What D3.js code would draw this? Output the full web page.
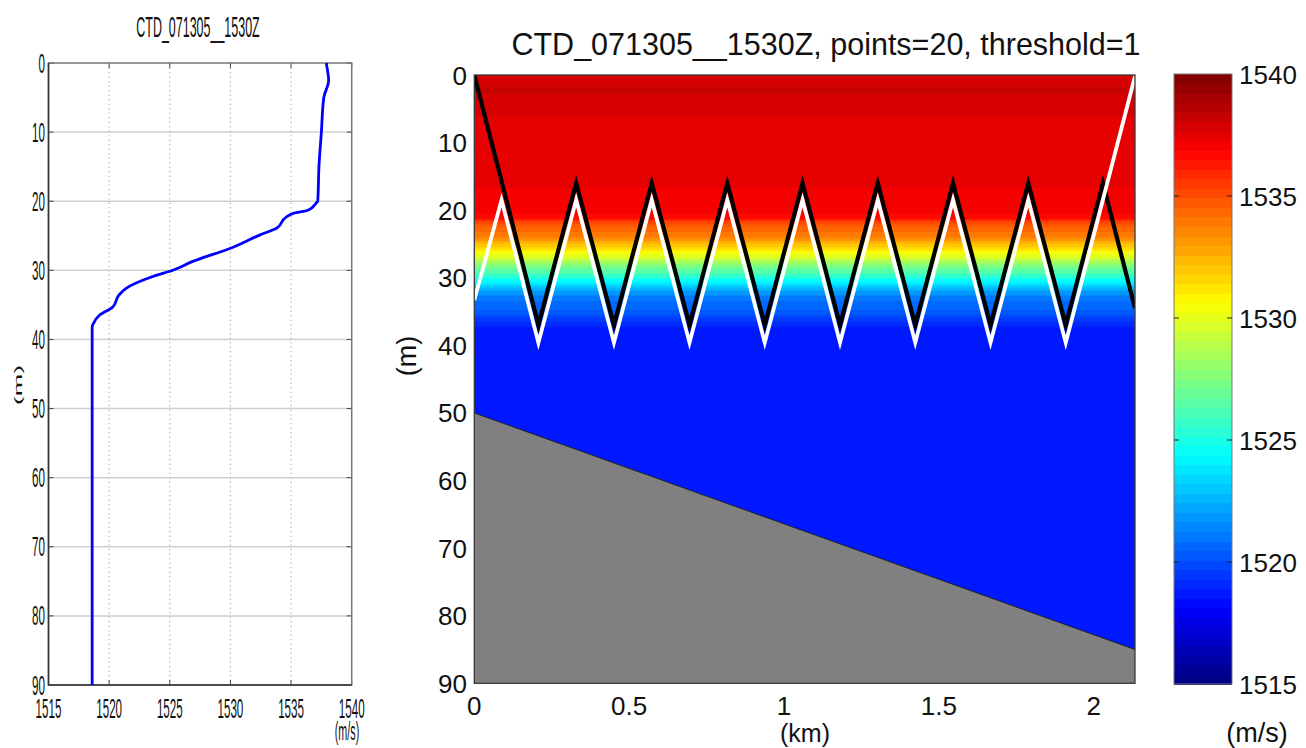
<!DOCTYPE html>
<html><head><meta charset="utf-8">
<script src="https://cdn.jsdelivr.net/npm/d3@7"></script>
<style>
html,body{margin:0;padding:0;background:#fff;}
svg{display:block;}
text{font-family:"Liberation Sans",Arial,sans-serif;fill:#111;}
</style></head>
<body>
<svg id="chart" width="1306" height="748"></svg>
<script>
// ---------------- DATA ----------------
const profileTitle = "CTD_071305__1530Z";
const sectionTitle = "CTD_071305__1530Z, points=20, threshold=1";
// sound-speed profile (depth m, speed m/s)
const profDepth = [0, 1, 2.5, 5, 10, 15, 20, 20.2, 21.3, 21.75, 22.3, 23.9, 24.9, 26.8, 28.7, 29.95, 30.9, 32.6, 33.6, 35.3, 36.5, 37.7, 38.2, 90];
const profSpeed = [1537.9, 1538.0, 1538.1, 1537.7, 1537.5, 1537.3, 1537.2, 1537.1, 1536.4, 1535.2, 1534.6, 1533.8, 1532.4, 1530.0, 1526.9, 1525.3, 1523.6, 1521.4, 1520.8, 1520.3, 1519.2, 1518.7, 1518.6, 1518.6];
// profile axes
const speedTicks = [1515, 1520, 1525, 1530, 1535, 1540];
const depthTicks = [0, 10, 20, 30, 40, 50, 60, 70, 80, 90];
// section
const rangeDomain = [0, 2.1336];
const rangeTicks = [0, 0.5, 1, 1.5, 2];
const rangeTickLabels = ["0", "0.5", "1", "1.5", "2"];
const bottomRange = [0, 2.1336];
const bottomDepth = [50, 85];
// track lines
const blackKm = [0, 0.207, 0.329, 0.451, 0.573, 0.695, 0.817, 0.938, 1.060, 1.181, 1.303, 1.424, 1.546, 1.667, 1.789, 1.910, 2.030, 2.1336];
const blackDepth = [0, 37, 16, 37, 16, 37, 16, 37, 16, 37, 16, 37, 16, 37, 16, 37, 16, 34.5];
const whiteKm = [0, 0.088, 0.207, 0.329, 0.451, 0.573, 0.695, 0.817, 0.938, 1.060, 1.181, 1.303, 1.424, 1.546, 1.667, 1.789, 1.910, 2.1336];
const whiteDepth = [33.3, 18.5, 39.6, 18.5, 39.6, 18.5, 39.6, 18.5, 39.6, 18.5, 39.6, 18.5, 39.6, 18.5, 39.6, 18.5, 39.6, 0.2];
// colour bar
const cDomain = [1515, 1540];
const cTicks = [1515, 1520, 1525, 1530, 1535, 1540];

// ---------------- HELPERS ----------------
const svg = d3.select("#chart");
function jet(t) {
  const c = v => Math.max(0, Math.min(1, v));
  const r = c(1.5 - Math.abs(4 * t - 3)), g = c(1.5 - Math.abs(4 * t - 2)), b = c(1.5 - Math.abs(4 * t - 1));
  return d3.rgb(r * 255, g * 255, b * 255).toString();
}
const NC = 64;
const cNorm = d3.scaleLinear().domain(cDomain).range([0, 1]).clamp(true);
function colorOf(v) {
  let i = Math.floor(cNorm(v) * NC); if (i >= NC) i = NC - 1;
  return jet((i + 0.5) / NC);
}
const SX = 0.43; // horizontal squeeze of the left panel text
function ctext(x, y, str, size, anchor, rot) {
  return svg.append("text")
    .attr("transform", `translate(${x},${y}) scale(${SX},1)` + (rot ? ` rotate(${rot})` : ""))
    .attr("text-anchor", anchor).attr("font-size", size).text(str);
}

// ---------------- LEFT PANEL: profile ----------------
const xL = d3.scaleLinear().domain([1515, 1540]).range([48.5, 351.7]);
const yL = d3.scaleLinear().domain([0, 90]).range([63, 685]);
const gL = svg.append("g");
// grid
gL.selectAll("line.hg").data(depthTicks.slice(1, -1)).join("line")
  .attr("x1", xL(1515)).attr("x2", xL(1540)).attr("y1", d => yL(d)).attr("y2", d => yL(d))
  .attr("stroke", "#cfcfcf").attr("stroke-width", 1.5);
gL.selectAll("line.vg").data(speedTicks.slice(1, -1)).join("line")
  .attr("x1", d => xL(d)).attr("x2", d => xL(d)).attr("y1", yL(0)).attr("y2", yL(90))
  .attr("stroke", "#bbb").attr("stroke-width", 1.2).attr("stroke-dasharray", "1.5,3");
// ticks
depthTicks.forEach(d => {
  gL.append("line").attr("x1", xL(1515)).attr("x2", xL(1515) + 5).attr("y1", yL(d)).attr("y2", yL(d)).attr("stroke", "#444");
  gL.append("line").attr("x1", xL(1540)).attr("x2", xL(1540) - 5).attr("y1", yL(d)).attr("y2", yL(d)).attr("stroke", "#444");
});
speedTicks.forEach(d => {
  gL.append("line").attr("x1", xL(d)).attr("x2", xL(d)).attr("y1", yL(90)).attr("y2", yL(90) - 5).attr("stroke", "#444");
  gL.append("line").attr("x1", xL(d)).attr("x2", xL(d)).attr("y1", yL(0)).attr("y2", yL(0) + 5).attr("stroke", "#444");
});
// frame
gL.append("rect").attr("x", xL(1515)).attr("y", yL(0)).attr("width", xL(1540) - xL(1515)).attr("height", yL(90) - yL(0))
  .attr("fill", "none").attr("stroke", "#777").attr("stroke-width", 1.5);
gL.append("path").attr("d", `M${xL(1515)},${yL(0)}V${yL(90)}H${xL(1540)}`).attr("fill", "none").attr("stroke", "#333").attr("stroke-width", 1.5);
// profile line
const profLine = d3.line().x(d => xL(d[1])).y(d => yL(d[0])).curve(d3.curveMonotoneY);
gL.append("path").datum(profDepth.map((d, i) => [d, profSpeed[i]]))
  .attr("d", profLine).attr("fill", "none").attr("stroke", "#0000ff").attr("stroke-width", 2.8);
// labels
depthTicks.forEach(d => ctext(45, yL(d) + 9.5, String(d), 27, "end"));
speedTicks.forEach(d => ctext(xL(d), 718, String(d), 27, "middle"));
ctext(347, 740, "(m/s)", 25, "middle");
ctext(198, 37, profileTitle, 29, "middle");
ctext(22, 385, "(m)", 27, "middle", -90);

// ---------------- RIGHT PANEL: section ----------------
const xR = d3.scaleLinear().domain(rangeDomain).range([474.3, 1135]);
const yR = d3.scaleLinear().domain([0, 90]).range([75, 683.3]);
const speedAt = d3.scaleLinear().domain(profDepth).range(profSpeed);
svg.append("defs").append("clipPath").attr("id", "clipR").append("rect")
  .attr("x", xR(0)).attr("y", yR(0)).attr("width", xR(rangeDomain[1]) - xR(0)).attr("height", yR(90) - yR(0));
const gR = svg.append("g").attr("clip-path", "url(#clipR)");
const step = 0.25;
const rows = d3.range(0, 90, step);
gR.selectAll("rect.row").data(rows).join("rect")
  .attr("x", xR(0)).attr("width", xR(rangeDomain[1]) - xR(0))
  .attr("y", d => yR(d)).attr("height", yR(step) - yR(0) + 0.6)
  .attr("fill", d => colorOf(speedAt(d + step / 2))).attr("shape-rendering", "crispEdges");
// seabed
const bed = bottomRange.map((r, i) => [xR(r), yR(bottomDepth[i])]);
gR.append("path").attr("d", `M${bed[0][0]},${bed[0][1]}L${bed[1][0]},${bed[1][1]}L${xR(rangeDomain[1])},${yR(90)}L${xR(0)},${yR(90)}Z`)
  .attr("fill", "#808080");
gR.append("path").attr("d", d3.line()(bed)).attr("stroke", "#222").attr("stroke-width", 1).attr("fill", "none");
// tracks
const trk = d3.line().x(d => xR(d[0])).y(d => yR(d[1]));
gR.append("path").datum(blackKm.map((k, i) => [k, blackDepth[i]])).attr("d", trk)
  .attr("fill", "none").attr("stroke", "#000").attr("stroke-width", 4.2).attr("stroke-linejoin", "miter");
gR.append("path").datum(whiteKm.map((k, i) => [k, whiteDepth[i]])).attr("d", trk)
  .attr("fill", "none").attr("stroke", "#fff").attr("stroke-width", 3.8).attr("stroke-linejoin", "miter");
// frame
svg.append("rect").attr("x", xR(0)).attr("y", yR(0)).attr("width", xR(rangeDomain[1]) - xR(0)).attr("height", yR(90) - yR(0))
  .attr("fill", "none").attr("stroke", "#3a3a3a").attr("stroke-width", 1.3);
// tick labels
svg.selectAll("text.yr").data(depthTicks).join("text")
  .attr("x", 467).attr("y", d => yR(d) + 9.5).attr("text-anchor", "end").attr("font-size", 26).text(d => d);
svg.selectAll("text.xr").data(rangeTicks).join("text")
  .attr("x", d => xR(d)).attr("y", 715).attr("text-anchor", "middle").attr("font-size", 26).text((d, i) => rangeTickLabels[i]);
svg.append("text").attr("x", 805).attr("y", 742).attr("text-anchor", "middle").attr("font-size", 25).text("(km)");
svg.append("text").attr("transform", "translate(416,356) rotate(-90)").attr("text-anchor", "middle").attr("font-size", 27).text("(m)");
svg.append("text").attr("x", 826).attr("y", 55).attr("text-anchor", "middle").attr("font-size", 30.5).text(sectionTitle);

// ---------------- COLOUR BAR ----------------
const yC = d3.scaleLinear().domain(cDomain).range([684, 74]);
const cx0 = 1174, cx1 = 1232;
const bands = d3.range(NC).map(i => cDomain[0] + (cDomain[1] - cDomain[0]) * i / NC);
const bw = (cDomain[1] - cDomain[0]) / NC;
svg.selectAll("rect.cb").data(bands).join("rect")
  .attr("x", cx0).attr("width", cx1 - cx0)
  .attr("y", d => yC(d + bw)).attr("height", yC(0) - yC(bw) + 0.5)
  .attr("fill", d => colorOf(d + bw / 2)).attr("shape-rendering", "crispEdges");
svg.append("rect").attr("x", cx0).attr("y", yC(cDomain[1])).attr("width", cx1 - cx0).attr("height", yC(cDomain[0]) - yC(cDomain[1]))
  .attr("fill", "none").attr("stroke", "#777").attr("stroke-width", 1);
cTicks.slice(1, -1).forEach(v => {
  svg.append("line").attr("x1", cx0).attr("x2", cx0 + 5).attr("y1", yC(v)).attr("y2", yC(v)).attr("stroke", "#222");
  svg.append("line").attr("x1", cx1).attr("x2", cx1 - 5).attr("y1", yC(v)).attr("y2", yC(v)).attr("stroke", "#222");
});
svg.selectAll("text.cl").data(cTicks).join("text")
  .attr("x", 1239).attr("y", d => yC(d) + 9.5).attr("font-size", 26).text(d => d);
svg.append("text").attr("x", 1257).attr("y", 742).attr("text-anchor", "middle").attr("font-size", 27).text("(m/s)");
</script>
</body></html>
